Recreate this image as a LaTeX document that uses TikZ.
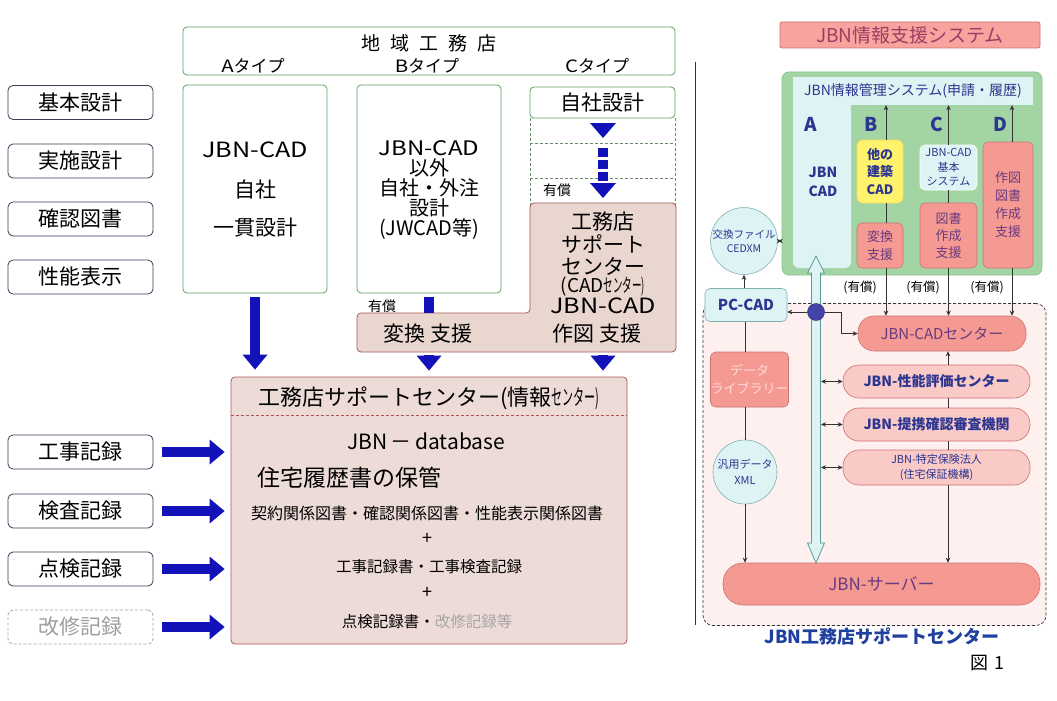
\documentclass[tikz,border=0pt]{standalone}
\usepackage{fontspec}
\setmainfont{Noto Sans CJK JP}
\usepackage{graphicx}
\usetikzlibrary{arrows.meta,calc}
\newcommand\myfs[1]{\fontsize{#1}{#1}\selectfont}
\newcommand\myfz[2]{\fontsize{#1}{#2}\selectfont}
\newcommand\sqz[1]{\scalebox{0.5}[1]{#1}}
\newcommand\wide[1]{\scalebox{1.2}[1]{#1}}
\definecolor{grn}{HTML}{5F9F5F}
\definecolor{dashgrn}{HTML}{6A8A6A}
\definecolor{lblue}{HTML}{3C3C5A}
\definecolor{arrowblue}{HTML}{1212B8}
\definecolor{brownfill}{HTML}{E9D6CF}
\definecolor{brownline}{HTML}{A85A5A}
\definecolor{dbfill}{HTML}{EDDBD7}
\definecolor{dbline}{HTML}{B05555}
\definecolor{cyanfill}{HTML}{DEF3F3}
\definecolor{cyanline}{HTML}{7FB0B0}
\definecolor{salmon}{HTML}{F59A92}
\definecolor{salline}{HTML}{D07070}
\definecolor{lightpink}{HTML}{F9CAC6}
\definecolor{greenfill}{HTML}{A3D4A3}
\definecolor{greenline}{HTML}{8CC48C}
\definecolor{yellowfill}{HTML}{FFF36E}
\definecolor{textblue}{HTML}{2C3590}
\definecolor{textpurple}{HTML}{6A3A80}
\definecolor{titletext}{HTML}{A03C64}
\definecolor{regionfill}{HTML}{FDF0EF}
\definecolor{captionblue}{HTML}{2040A0}
\definecolor{darkln}{HTML}{333333}
\definecolor{hubblue}{HTML}{4444A8}
\definecolor{shaftline}{HTML}{5A9A9A}
\tikzset{
  wbox/.style={draw=grn, line width=0.8pt, rounded corners=4pt, fill=white, inner sep=0pt, outer sep=0pt},
  lbox/.style={draw=lblue, line width=0.8pt, rounded corners=5pt, fill=white, minimum width=145, minimum height=34, inner sep=0pt, font=\myfs{21}},
  txt/.style={inner sep=0pt, align=center},
  bigarrow/.style={draw=arrowblue, line width=10pt, -{Triangle[length=15pt,width=25pt,line width=0pt]}},
  bluebar/.style={draw=arrowblue, line width=10pt},
  cdash/.style={draw=dashgrn, line width=0.6pt, dash pattern=on 3pt off 2pt},
  tarrow/.style={draw=darkln, line width=0.6pt, -{Stealth[length=5pt,width=4.5pt]}},
  tdarrow/.style={draw=darkln, line width=0.6pt, {Stealth[length=5pt,width=4.5pt]}-{Stealth[length=5pt,width=4.5pt]}},
  tline/.style={draw=darkln, line width=0.6pt},
  cyanbox/.style={fill=cyanfill, draw=cyanline, line width=0.6pt, rounded corners=5pt, inner sep=0pt, align=center, text=textblue},
  salbox/.style={fill=salmon, draw=salline, line width=0.6pt, rounded corners=5pt, inner sep=0pt, align=center, text=textpurple},
  pillbox/.style={rounded corners=16pt, line width=0.6pt, inner sep=0pt, align=center},
}
\begin{document}
\begin{tikzpicture}[x=1pt,y=-1pt]
\useasboundingbox (0,0) rectangle (1057,701);
\fill[white] (0,0) rectangle (1057,701);

% ---------- left labels ----------
\node[lbox] (L1) at (80.5,102.5) {基本設計};
\node[lbox] (L2) at (80.5,161) {実施設計};
\node[lbox] (L3) at (80.5,219) {確認図書};
\node[lbox] (L4) at (80.5,277) {性能表示};
\node[lbox] (R1) at (80.5,452) {工事記録};
\node[lbox] (R2) at (80.5,511) {検査記録};
\node[lbox] (R3) at (80.5,569) {点検記録};
\node[lbox, draw=gray!70, dash pattern=on 3pt off 2pt, text=gray!75] (R4) at (80.5,627) {改修記録};

% ---------- top ----------
\node[wbox, minimum width=492, minimum height=48] (chiiki) at (429,51) {};
\node[txt, font=\myfs{19}] (chiikiT) at (429,43) {地\hspace{10pt}域\hspace{10pt}工\hspace{10pt}務\hspace{10pt}店};
\node[txt, font=\myfs{17}] (typA) at (253,66) {\wide{A}タイプ};
\node[txt, font=\myfs{17}] (typB) at (427,66) {\wide{B}タイプ};
\node[txt, font=\myfs{17}] (typC) at (597,66) {\wide{C}タイプ};

\node[wbox, minimum width=144, minimum height=208] (colA) at (255,189) {};
\node[txt, font=\myfs{21}] (aT1) at (255,150) {\wide{JBN-CAD}};
\node[txt, font=\myfs{21}] (aT2) at (255,190) {自社};
\node[txt, font=\myfs{21}] (aT3) at (255,228) {一貫設計};

\node[wbox, minimum width=144, minimum height=208] (colB) at (429,189) {};
\node[txt, font=\myfz{20}{20.2}] (bT) at (429,190) {\wide{JBN-CAD}\\以外\\自社・外注\\設計\\(JWCAD等)};

\node[wbox, minimum width=145, minimum height=31, font=\myfs{21}] (jisha) at (602.5,102.5) {自社設計};

% dashed C column
\coordinate (cdTL) at (530,118);
\coordinate (cdTR) at (675,118);
\draw[cdash] (cdTL) -- (530,205);
\draw[cdash] (cdTR) -- (675,205);
\draw[cdash] (530,143) -- (675,143);
\draw[cdash] (530,178) -- (675,178);

% blue arrows in C column
\fill[arrowblue] (590,123) -- (616,123) -- (603,138) -- cycle;
\draw[bluebar, dash pattern=on 9pt off 3pt] (603,148) -- (603,181);
\fill[arrowblue] (590,183) -- (616,183) -- (603,198) -- cycle;
\node[txt, font=\myfs{14}] (yushoC) at (557,190) {有償};

% brown L-shape
\coordinate (bandTL) at (357,313);
\coordinate (bandBL) at (357,352);
\coordinate (cBoxX) at (603,203);
\draw[fill=brownfill, draw=brownline, line width=0.8pt, rounded corners=4pt]
  (357,313) -- (530,313) -- (530,203) -- (676,203) -- (676,352) -- (357,352) -- cycle;
\node[txt, font=\myfs{21}] (cT1) at (603,222) {工務店};
\node[txt, font=\myfs{21}] (cT2) at (603,244) {サポート};
\node[txt, font=\myfs{21}] (cT3) at (603,266) {センター};
\node[txt, font=\myfs{19}] (cT4) at (603,287) {(CAD\sqz{センター)}};
\node[txt, font=\myfs{21}] (cT5) at (603,306) {\wide{JBN-CAD}};
\node[txt, font=\myfs{21}] (cT6) at (597,334) {作図\hspace{5pt}支援};
\node[txt, font=\myfs{21}] (bandT) at (428,334) {変換\hspace{5pt}支援};
\node[txt, font=\myfs{14}] (yushoB) at (382,306) {有償};

% bottom database box
\node[fill=dbfill, draw=dbline, line width=0.8pt, rounded corners=4pt, minimum width=396, minimum height=267, inner sep=0pt] (db) at (429,510.5) {};
\draw[dbline, line width=0.6pt, dash pattern=on 3pt off 2pt] (db.west |- 0,415) -- (db.east |- 0,415);
\node[txt, font=\myfs{22}] (dbT) at (429,398) {工務店サポートセンター(情報\sqz{センター)}};
\node[txt, font=\myfs{21}] (dbT1) at (426,441) {JBN\,－\,database};
\node[txt, font=\myfs{23}, anchor=west] (dbT2) at (257,478) {住宅履歴書の保管};
\node[txt, font=\myfs{16}] (dbT3) at (427,513) {契約関係図書・確認関係図書・性能表示関係図書};
\node[txt, font=\myfs{18}] (dbP1) at (427,539) {+};
\node[txt, font=\myfs{15.5}] (dbT4) at (429,567) {工事記録書・工事検査記録};
\node[txt, font=\myfs{18}] (dbP2) at (427,593) {+};
\node[txt, font=\myfs{15.5}] (dbT5) at (427,622) {点検記録書・\textcolor{gray!70}{改修記録等}};

% blue arrows
\draw[bigarrow, shorten <=4pt, shorten >=7pt] (colA.south) -- (colA.south |- db.north);
\draw[bluebar, shorten <=4pt] (colB.south) -- (colB.south |- bandTL);
\draw[bigarrow, shorten <=3pt, shorten >=6pt] (colB.south |- bandBL) -- (colB.south |- db.north);
\draw[bigarrow, shorten <=3pt, shorten >=6pt] (cBoxX |- bandBL) -- (cBoxX |- db.north);
\foreach \n in {R1,R2,R3,R4}
  \draw[bigarrow, shorten <=9pt, shorten >=6pt] (\n.east) -- (\n.east -| db.west);

% separator
\coordinate (sepTop) at (695,62);
\coordinate (sepBot) at (695,625);
\draw[darkln, line width=0.8pt] (sepTop) -- (sepBot);

% ---------- right side ----------
\node[draw=salline, fill=salmon!90!white, line width=0.8pt, rounded corners=2pt, minimum width=260, minimum height=26, inner sep=0pt, font=\myfs{19}, text=titletext] (title) at (910,35) {JBN情報支援システム};

\node[fill=regionfill, draw=darkln, line width=0.7pt, dash pattern=on 3pt off 2pt, rounded corners=10pt, minimum width=343, minimum height=322, inner sep=0pt] (region) at (874.5,464.5) {};
\node[txt, font=\bfseries\myfs{18}, text=captionblue] (cap) at (882,636) {JBN工務店サポートセンター};

\node[fill=greenfill, draw=greenline, line width=0.8pt, rounded corners=7pt, minimum width=260, minimum height=203, inner sep=0pt] (green) at (912,173.5) {};
\node[fill=cyanfill, rounded corners=6pt, minimum width=58, minimum height=173, inner sep=0pt] (colAr) at (822,181.5) {};
\node[fill=cyanfill, minimum width=240, minimum height=28, inner sep=0pt, font=\myfs{14}, text=textblue] (header) at (913,91) {JBN情報管理システム(申請・履歴)};

\node[txt, font=\bfseries\myfs{19}, text=textblue] (letA) at (811,124) {A};
\node[txt, font=\bfseries\myfs{19}, text=textblue] (letB) at (871,124) {B};
\node[txt, font=\bfseries\myfs{19}, text=textblue] (letC) at (937,124) {C};
\node[txt, font=\bfseries\myfs{19}, text=textblue] (letD) at (1000,124) {D};
\node[txt, font=\bfseries\myfz{14}{19}, text=textblue] (aCAD) at (823,182) {JBN\\CAD};

\node[fill=yellowfill, draw=yellowfill!80!orange, line width=0.6pt, rounded corners=6pt, minimum width=46, minimum height=63, inner sep=0pt, align=center, font=\bfseries\myfz{13}{17.5}, text=textblue] (yel) at (880,171.5) {他の\\建築\\CAD};
\node[salbox, minimum width=46, minimum height=45, font=\myfz{13}{18}] (pinkB) at (880,245.5) {変換\\支援};
\node[cyanbox, draw=white, minimum width=57, minimum height=45, font=\myfz{11}{14.5}] (cyanC) at (948.5,167.5) {JBN-CAD\\基本\\システム};
\node[salbox, minimum width=57, minimum height=65, font=\myfz{13}{17}] (pinkC) at (948.5,235.5) {図書\\作成\\支援};
\node[salbox, minimum width=50, minimum height=126, font=\myfz{13}{18}] (pinkD) at (1008,205) {作図\\図書\\作成\\支援};

\draw[tarrow] ([xshift=6pt]yel.north) -- ([xshift=6pt]yel.north |- header.south);
\draw[tline] ([xshift=6pt]yel.south) -- ([xshift=6pt]pinkB.north);
\draw[tarrow] (cyanC.north) -- (cyanC.north |- header.south);
\draw[tline] (cyanC.south) -- (pinkC.north);
\draw[tarrow] ([xshift=4pt]pinkD.north) -- ([xshift=4pt]pinkD.north |- header.south);

% CEDXM
\node[circle, fill=cyanfill, draw=cyanline, line width=0.6pt, minimum size=64, inner sep=0pt, align=center, font=\myfz{10.5}{14}, text=textblue] (ex) at (744,241) {交換ファイル\\CEDXM};
\draw[tdarrow, dash pattern=on 2pt off 1.5pt] (ex.east) -- (ex.east -| green.west);

% PC-CAD and column
\node[cyanbox, minimum width=82, minimum height=33, font=\bfseries\myfs{15}] (pccad) at (746,305) {PC-CAD};
\draw[tarrow] (ex.south |- pccad.north) -- (ex.south);
\node[salbox, text=white!85!red, minimum width=75, minimum height=55, font=\myfz{13}{18}] (datalib) at (749.5,379.5) {データ\\ライブラリー};
\node[circle, fill=cyanfill, draw=cyanline, line width=0.6pt, minimum size=64, inner sep=0pt, align=center, font=\myfz{11}{16}, text=textblue] (xml) at (745,472) {汎用データ\\XML};
\draw[tline] (xml.north |- pccad.south) -- (xml.north |- datalib.north);
\draw[tline] (xml.north |- datalib.south) -- (xml.north);

% server
\node[fill=salmon, draw=salline, pillbox, rounded corners=20pt, minimum width=317, minimum height=42, font=\myfs{17}, text=textpurple] (server) at (881.5,584) {JBN-サーバー};
\draw[tarrow] (xml.south) -- (xml.south |- server.north);

% big hollow double arrow
\draw[fill=cyanfill, draw=shaftline, line width=0.8pt]
  (816,256) -- (824.5,273) -- (820.5,273) -- (820.5,543) -- (824.5,543) -- (816,563)
  -- (807.5,543) -- (811.5,543) -- (811.5,273) -- (807.5,273) -- cycle;
\coordinate (shaftR) at (821,400);

% centers
\node[fill=salmon, draw=salline, pillbox, minimum width=168, minimum height=35, font=\myfs{15}, text=textpurple] (cadc) at (942,333.5) {JBN-CADセンター};
\node[fill=lightpink, draw=salline, pillbox, minimum width=187, minimum height=33, font=\bfseries\myfs{14}, text=textblue] (perf) at (936.5,381.5) {JBN-性能評価センター};
\node[fill=lightpink, draw=salline, pillbox, minimum width=187, minimum height=33, font=\bfseries\myfs{14}, text=textblue] (kaku) at (936.5,424.5) {JBN-提携確認審査機関};
\node[fill=lightpink, draw=salline, pillbox, minimum width=187, minimum height=35, font=\myfz{11}{15}, text=textblue] (hoken) at (936.5,467.5) {JBN-特定保険法人\\(住宅保証機構)};

\draw[tarrow] ([xshift=6pt]pinkB.south) -- ([xshift=6pt]pinkB.south |- cadc.north);
\draw[tarrow] (pinkC.south) -- (pinkC.south |- cadc.north);
\draw[tarrow] ([xshift=4pt]pinkD.south) -- ([xshift=4pt]pinkD.south |- cadc.north);
\node[txt, font=\myfs{12.5}] (y1) at (860,287) {(有償)};
\node[txt, font=\myfs{12.5}] (y2) at (923,287) {(有償)};
\node[txt, font=\myfs{12.5}] (y3) at (987,287) {(有償)};

\draw[tarrow] ([xshift=11.5pt]perf.north) -- ([xshift=11.5pt]perf.north |- cadc.south);
\draw[tline] ([xshift=11.5pt]perf.south) -- ([xshift=11.5pt]kaku.north);
\draw[tline] ([xshift=11.5pt]kaku.south) -- ([xshift=11.5pt]hoken.north);
\draw[tarrow] ([xshift=11.5pt]hoken.south) -- ([xshift=11.5pt]hoken.south |- server.north);

\draw[tdarrow] (shaftR |- perf.west) -- (perf.west);
\draw[tdarrow] (shaftR |- kaku.west) -- (kaku.west);
\draw[tdarrow] (shaftR |- hoken.west) -- (hoken.west);

% hub
\node[circle, fill=hubblue, draw=hubblue!70!black, line width=0.5pt, minimum size=17, inner sep=0pt] (hub) at (816,312) {};
\draw[tarrow] (hub.west) -- (pccad.east |- hub.west);
\draw[tarrow] (hub.east) -- ++(17,0) |- (cadc.west);

\node[txt, font=\myfs{18}] (fig) at (987,663) {図\hspace{6pt}1};
\end{tikzpicture}
\end{document}
